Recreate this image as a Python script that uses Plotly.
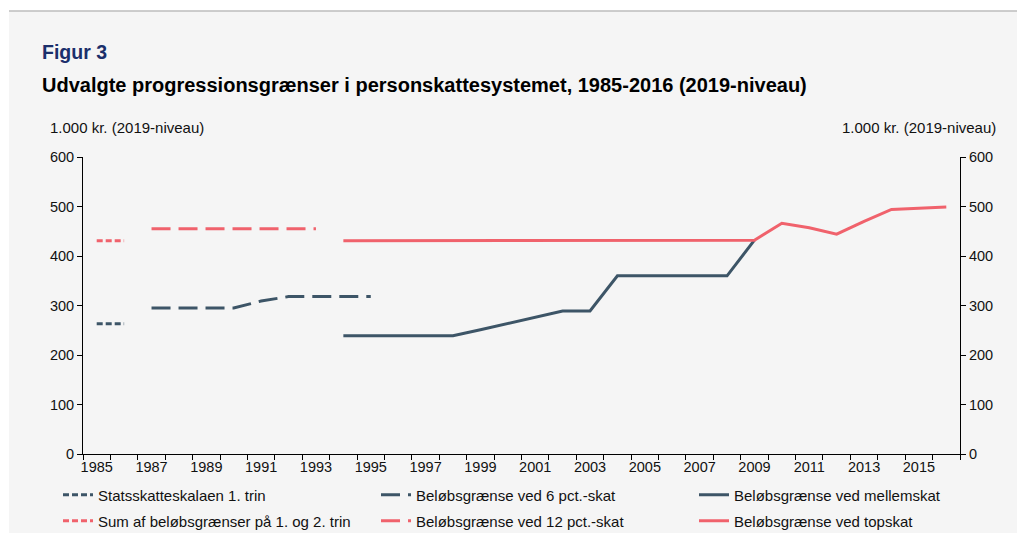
import plotly.graph_objects as go

years = list(range(1985, 2017))

def series(d):
    return [d.get(y) for y in years]

# Values (1.000 kr., 2019-niveau)
stats_1trin = {1985: 263, 1986: 263}
sum_1_2_trin = {1985: 431, 1986: 431}
pct6 = {1987: 295, 1988: 295, 1989: 295, 1990: 295, 1991: 309, 1992: 318,
        1993: 318, 1994: 318, 1995: 318}
pct12 = {1987: 455, 1988: 455, 1989: 455, 1990: 455, 1991: 455, 1992: 455, 1993: 455}
mellemskat = {1994: 239, 1995: 239, 1996: 239, 1997: 239, 1998: 239, 1999: 251,
              2000: 264, 2001: 276, 2002: 289, 2003: 289, 2004: 360, 2005: 360,
              2006: 360, 2007: 360, 2008: 360, 2009: 432}
topskat = {1994: 431, 1995: 431, 1996: 431, 1997: 431, 1998: 431, 1999: 431,
           2000: 431, 2001: 431, 2002: 431, 2003: 431, 2004: 431, 2005: 431,
           2006: 431, 2007: 431, 2008: 431, 2009: 432, 2010: 466, 2011: 457,
           2012: 444, 2013: 470, 2014: 494, 2015: 497, 2016: 499}

names = ["Statsskatteskalaen 1. trin", "Beløbsgrænse ved 6 pct.-skat",
         "Beløbsgrænse ved mellemskat", "Sum af beløbsgrænser på 1. og 2. trin",
         "Beløbsgrænse ved 12 pct.-skat", "Beløbsgrænse ved topskat"]
tick_years = list(range(1985, 2016, 2))

NAVY = "#3D5567"
RED = "#F0626C"
FONT = "Liberation Sans, Arial, sans-serif"

fig = go.Figure()
specs = [
    (stats_1trin, NAVY, "6px,3px", "legend"),
    (pct6, NAVY, "19px,8px", "legend"),
    (mellemskat, NAVY, "solid", "legend"),
    (sum_1_2_trin, RED, "6px,3px", "legend2"),
    (pct12, RED, "19px,8px", "legend2"),
    (topskat, RED, "solid", "legend2"),
]
for (d, col, dash, lg), nm in zip(specs, names):
    fig.add_trace(go.Scatter(x=years, y=series(d), mode="lines", name=nm,
                             line=dict(color=col, width=3, dash=dash),
                             connectgaps=False, legend=lg))
# invisible trace for the right axis
fig.add_trace(go.Scatter(x=[years[0]], y=[0], yaxis="y2", mode="lines",
                         showlegend=False, hoverinfo="skip",
                         line=dict(color="rgba(0,0,0,0)")))

L, R, T, B = 83, 960, 157, 454

def py(pixel):
    return (B - pixel) / (B - T)

def px(pixel):
    return (pixel - L) / (R - L)

axis_common = dict(showgrid=False, zeroline=False, showline=True, linecolor="#000",
                   linewidth=1, automargin=False,
                   tickfont=dict(size=14.5, color="#111", family=FONT))

legend_common = dict(orientation="h", xanchor="left", yanchor="middle",
                     entrywidth=273, entrywidthmode="pixels",
                     font=dict(size=15, family=FONT, color="#111"),
                     bgcolor="rgba(0,0,0,0)", traceorder="normal")

fig.update_layout(
    width=1017, height=533,
    margin=dict(l=L, r=1017 - R, t=T, b=533 - B, autoexpand=False),
    paper_bgcolor="#F5F5F5", plot_bgcolor="#F5F5F5",
    font=dict(family=FONT, color="#111"),
    xaxis=dict(range=[1984.5, 2016.5], tickvals=tick_years,
               ticktext=[str(y) for y in tick_years], ticks="",
               minor=dict(ticks="outside", tick0=1984.5, dtick=1, ticklen=5,
                          tickcolor="#000"),
               **axis_common),
    yaxis=dict(range=[0, 600], tickvals=[0, 100, 200, 300, 400, 500, 600],
               ticks="outside", ticklen=5, tickcolor="#000", **axis_common),
    yaxis2=dict(range=[0, 600], tickvals=[0, 100, 200, 300, 400, 500, 600],
                overlaying="y", side="right", ticks="outside", ticklen=5,
                tickcolor="#000", **axis_common),
    legend=dict(x=px(58), y=py(495), **legend_common),
    legend2=dict(x=px(58), y=py(521), **legend_common),
    showlegend=True,
    shapes=[
        dict(type="rect", xref="paper", yref="paper", x0=-0.2, x1=1.2,
             y0=py(11), y1=1.7, fillcolor="#FFFFFF", line=dict(width=0), layer="below"),
        dict(type="rect", xref="paper", yref="paper", x0=-0.2, x1=px(9),
             y0=-0.5, y1=1.7, fillcolor="#FFFFFF", line=dict(width=0), layer="below"),
        dict(type="line", xref="paper", yref="paper", x0=px(9), x1=1.2,
             y0=py(11), y1=py(11), line=dict(color="#BDBDBD", width=1.5)),
    ],
    annotations=[
        dict(text="<b>Figur 3</b>", xref="paper", yref="paper", x=px(40), y=py(52),
             xanchor="left", yanchor="middle", showarrow=False,
             font=dict(size=19.5, color="#1B2F6B", family=FONT)),
        dict(text="<b>Udvalgte progressionsgrænser i personskattesystemet, 1985-2016 (2019-niveau)</b>",
             xref="paper", yref="paper", x=px(40), y=py(85),
             xanchor="left", yanchor="middle", showarrow=False,
             font=dict(size=20, color="#000", family=FONT)),
        dict(text="1.000 kr. (2019-niveau)", xref="paper", yref="paper", x=px(48), y=py(128),
             xanchor="left", yanchor="middle", showarrow=False,
             font=dict(size=15, color="#111", family=FONT)),
        dict(text="1.000 kr. (2019-niveau)", xref="paper", yref="paper", x=px(998), y=py(128),
             xanchor="right", yanchor="middle", showarrow=False,
             font=dict(size=15, color="#111", family=FONT)),
    ],
)

fig.write_html("out.html", config={"displayModeBar": False},
               post_script="document.body.style.margin='0';document.body.style.overflow='hidden';")
